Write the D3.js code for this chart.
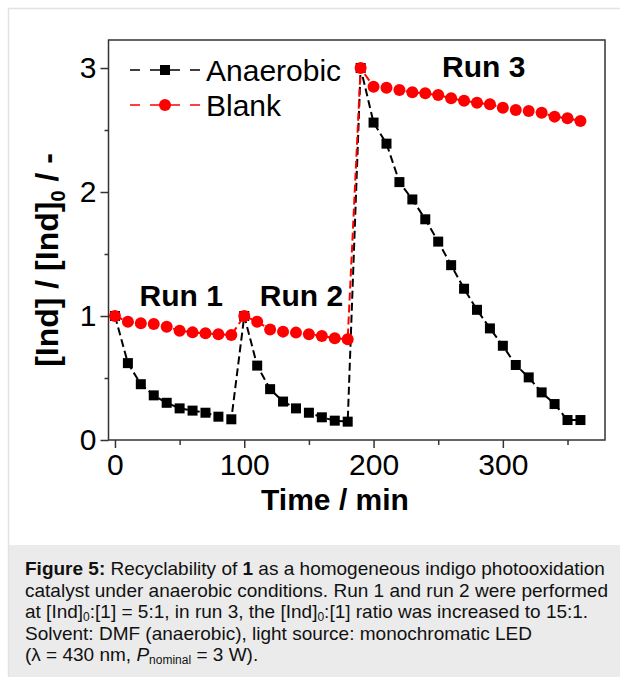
<!DOCTYPE html>
<html>
<head>
<meta charset="utf-8">
<script src="https://cdn.jsdelivr.net/npm/d3@7"></script>
<style>
    body { margin: 0; background: #fff; }
    svg text { font-family: "Liberation Sans", Arial, sans-serif; }
</style>
</head>
<body>
<div id="chart"></div>
<script>
// sampling times (min), runs 1-3 back to back
const times = [0, 10, 20, 30, 40, 50, 60, 70, 80, 90,
    100, 110, 120, 130, 140, 150, 160, 170, 180,
    190, 200, 210, 220, 230, 240, 250, 260, 270, 280, 290, 300, 310, 320, 330, 340, 350, 360];

const anaerobic = [1.0, 0.62, 0.45, 0.36, 0.30, 0.255, 0.237, 0.22, 0.188, 0.167,
    1.0, 0.60, 0.41, 0.31, 0.255, 0.22, 0.183, 0.156, 0.148,
    3.0, 2.56, 2.39, 2.08, 1.94, 1.78, 1.60, 1.41, 1.22, 1.05, 0.90, 0.76, 0.605, 0.505, 0.384, 0.29, 0.161, 0.161];

const blank = [1.0, 0.954, 0.941, 0.935, 0.914, 0.882, 0.868, 0.86, 0.852, 0.847,
    1.0, 0.954, 0.892, 0.874, 0.866, 0.852, 0.839, 0.82, 0.812,
    3.0, 2.849, 2.841, 2.823, 2.804, 2.796, 2.782, 2.756, 2.736, 2.72, 2.707, 2.68, 2.661, 2.653, 2.64, 2.608, 2.594, 2.573];

const xMajor = [0, 100, 200, 300];
const xMinor = [50, 150, 250, 350];
const yMajor = [0, 1, 2, 3];
const yMinor = [0.5, 1.5, 2.5];

const runLabels = [
    { text: "Run 1", t: 19, v: 1.08 },
    { text: "Run 2", t: 112, v: 1.08 },
    { text: "Run 3", t: 253, v: 2.93 }
];

class RecycleVis {
    constructor(parentElement) {
        this.parentElement = parentElement;
        this.initVis();
    }

    initVis() {
        let vis = this;

        vis.width = 620;
        vis.height = 677;

        vis.svg = d3.select("#" + vis.parentElement).append("svg")
            .attr("width", vis.width)
            .attr("height", vis.height);

        // page frame + caption box
        vis.svg.append("rect")
            .attr("x", 9).attr("y", 545)
            .attr("width", vis.width - 9).attr("height", vis.height - 545)
            .attr("fill", "#ebebeb");
        vis.svg.append("path")
            .attr("d", "M8.5,677V8.5H620")
            .attr("fill", "none")
            .attr("stroke", "#e2e2e2")
            .attr("stroke-width", 1.5);

        vis.x = d3.scaleLinear().domain([-5, 379]).range([108.5, 605]);
        vis.y = d3.scaleLinear().domain([0, 3.226]).range([440, 40]);

        vis.updateVis();
        vis.drawCaption();
    }

    updateVis() {
        let vis = this;
        let data = times.map((t, i) => ({ t: t, a: anaerobic[i], b: blank[i] }));

        // axes
        vis.svg.append("g")
            .attr("transform", "translate(0,440)")
            .call(d3.axisBottom(vis.x).tickValues(xMajor).tickSize(8).tickPadding(6));
        vis.svg.append("g")
            .attr("transform", "translate(0,440)")
            .call(d3.axisBottom(vis.x).tickValues(xMinor).tickSize(5).tickFormat(""));
        vis.svg.append("g")
            .attr("transform", "translate(108.5,0)")
            .call(d3.axisLeft(vis.y).tickValues(yMajor).tickSize(8).tickPadding(4).tickFormat(d3.format("d")));
        vis.svg.append("g")
            .attr("transform", "translate(108.5,0)")
            .call(d3.axisLeft(vis.y).tickValues(yMinor).tickSize(4).tickFormat(""));

        vis.svg.selectAll(".domain").remove();
        vis.svg.selectAll(".tick line").attr("stroke", "#333").attr("stroke-width", 1.5);
        vis.svg.selectAll(".tick text")
            .attr("fill", "#000")
            .style("font-size", "30px");

        vis.svg.append("rect")
            .attr("x", 108.5).attr("y", 40)
            .attr("width", 605 - 108.5).attr("height", 400)
            .attr("fill", "none")
            .attr("stroke", "#333")
            .attr("stroke-width", 1.5);

        // axis titles
        vis.svg.append("text")
            .attr("x", 335).attr("y", 510)
            .attr("text-anchor", "middle")
            .style("font-size", "30px").style("font-weight", "bold")
            .text("Time / min");

        let yt = vis.svg.append("text")
            .attr("transform", "translate(58,260) rotate(-90)")
            .attr("text-anchor", "middle")
            .style("font-size", "32px").style("font-weight", "bold");
        yt.append("tspan").text("[Ind] / [Ind]");
        yt.append("tspan").attr("dy", 7).style("font-size", "20px").text("0");
        yt.append("tspan").attr("dy", -7).text(" / -");

        // series
        let line = key => d3.line().x(d => vis.x(d.t)).y(d => vis.y(d[key]));

        vis.svg.append("path")
            .datum(data)
            .attr("d", line("a"))
            .attr("fill", "none")
            .attr("stroke", "#000")
            .attr("stroke-width", 2)
            .attr("stroke-dasharray", "8,4");

        vis.svg.append("path")
            .datum(data)
            .attr("d", line("b"))
            .attr("fill", "none")
            .attr("stroke", "#ff0000")
            .attr("stroke-width", 2)
            .attr("stroke-dasharray", "8,4");

        let sq = 10;
        vis.svg.append("g")
            .selectAll("rect")
            .data(data)
            .enter().append("rect")
            .attr("x", d => vis.x(d.t) - sq / 2)
            .attr("y", d => vis.y(d.a) - sq / 2)
            .attr("width", sq)
            .attr("height", sq)
            .attr("fill", "#000");

        vis.svg.append("g")
            .selectAll("circle")
            .data(data)
            .enter().append("circle")
            .attr("cx", d => vis.x(d.t))
            .attr("cy", d => vis.y(d.b))
            .attr("r", 6)
            .attr("fill", "#ff0000");

        // run labels
        vis.svg.selectAll(".run")
            .data(runLabels)
            .enter().append("text")
            .attr("class", "run")
            .attr("x", d => vis.x(d.t))
            .attr("y", d => vis.y(d.v))
            .style("font-size", "30px").style("font-weight", "bold")
            .text(d => d.text);

        // Legend
        let legend = vis.svg.selectAll(".legend")
            .data([{ name: "Anaerobic", color: "#000", shape: "square" },
                   { name: "Blank", color: "#ff0000", shape: "circle" }])
            .enter().append("g")
            .attr("class", "legend")
            .attr("transform", (d, i) => `translate(130,${70 + i * 35})`);

        legend.append("line")
            .attr("x1", 0).attr("x2", 70)
            .attr("stroke", d => d.color)
            .attr("stroke-width", 1.5)
            .attr("stroke-dasharray", "10,10");

        legend.filter(d => d.shape === "square").append("rect")
            .attr("x", 35 - sq / 2).attr("y", -sq / 2)
            .attr("width", sq).attr("height", sq)
            .attr("fill", "#000");

        legend.filter(d => d.shape === "circle").append("circle")
            .attr("cx", 35).attr("r", 6)
            .attr("fill", "#ff0000");

        legend.append("text")
            .attr("x", 76)
            .attr("y", 10.5)
            .style("font-size", "30px")
            .text(d => d.name);
    }

    drawCaption() {
        let vis = this;
        let cap = vis.svg.append("g").style("font-size", "19px").attr("fill", "#111");
        let lines = [575, 597, 618, 640, 661];

        let l1 = cap.append("text").attr("x", 25).attr("y", lines[0]);
        l1.append("tspan").style("font-weight", "bold").text("Figure 5:");
        l1.append("tspan").text(" Recyclability of ");
        l1.append("tspan").style("font-weight", "bold").text("1");
        l1.append("tspan").text(" as a homogeneous indigo photooxidation");

        cap.append("text").attr("x", 25).attr("y", lines[1])
            .text("catalyst under anaerobic conditions. Run 1 and run 2 were performed");

        let l3 = cap.append("text").attr("x", 25).attr("y", lines[2]);
        l3.append("tspan").text("at [Ind]");
        l3.append("tspan").attr("dy", 3).style("font-size", "12px").text("0");
        l3.append("tspan").attr("dy", -3).text(":[1] = 5:1, in run 3, the [Ind]");
        l3.append("tspan").attr("dy", 3).style("font-size", "12px").text("0");
        l3.append("tspan").attr("dy", -3).text(":[1] ratio was increased to 15:1.");

        cap.append("text").attr("x", 25).attr("y", lines[3])
            .text("Solvent: DMF (anaerobic), light source: monochromatic LED");

        let l5 = cap.append("text").attr("x", 25).attr("y", lines[4]);
        l5.append("tspan").text("(λ = 430 nm, ");
        l5.append("tspan").style("font-style", "italic").text("P");
        l5.append("tspan").attr("dy", 3).style("font-size", "12px").text("nominal");
        l5.append("tspan").attr("dy", -3).text(" = 3 W).");
    }
}

new RecycleVis("chart");
</script>
</body>
</html>
